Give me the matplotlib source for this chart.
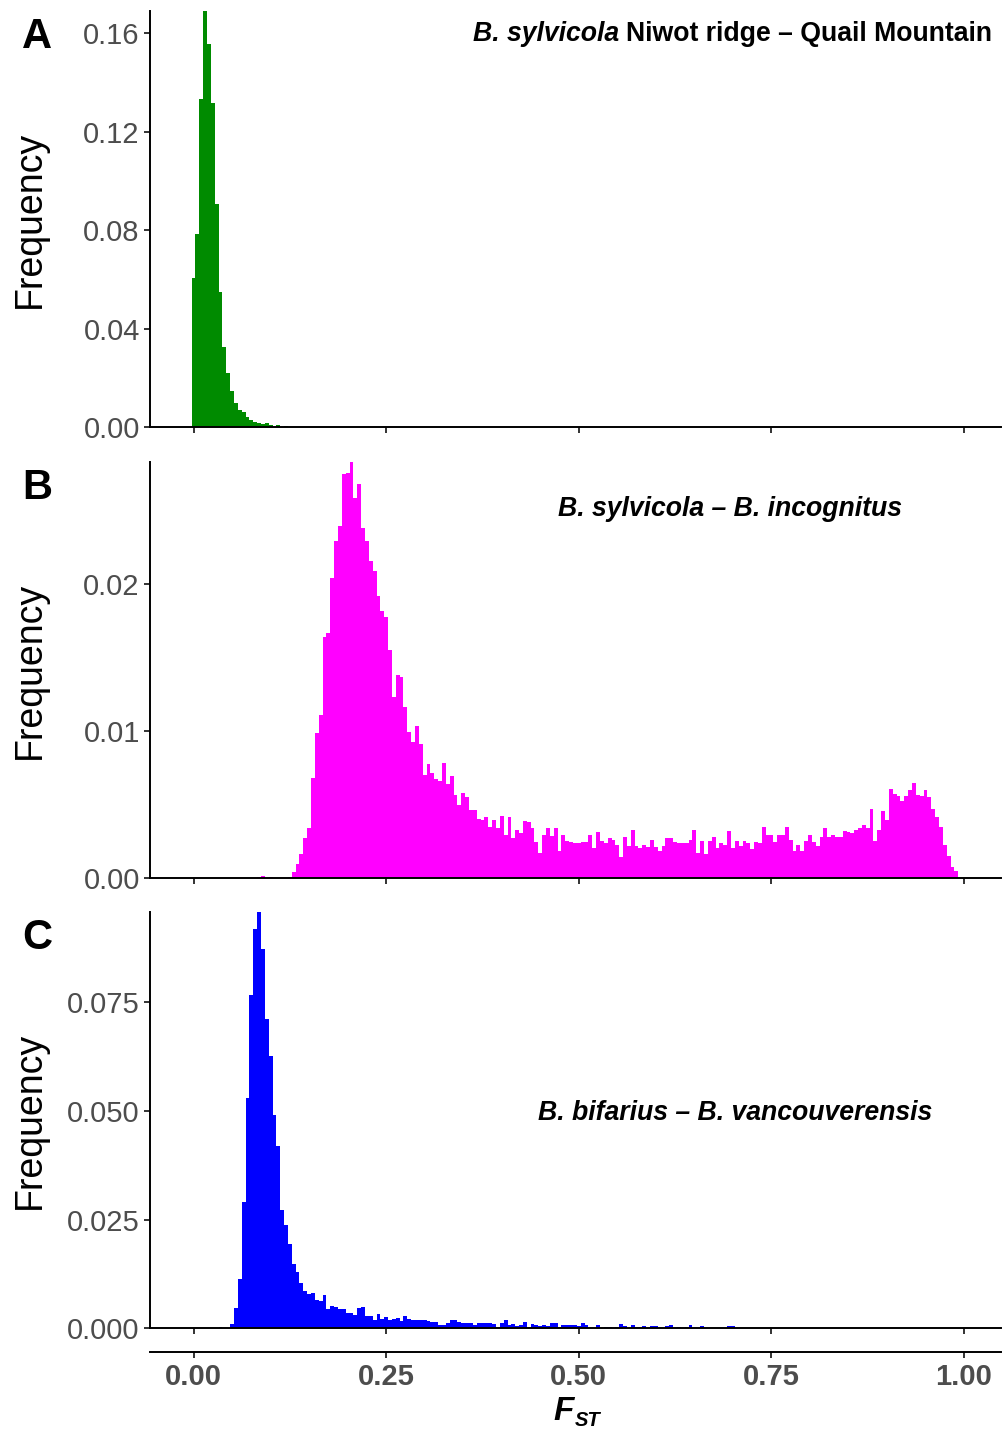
import numpy as np
import matplotlib
matplotlib.use("Agg")
import matplotlib.pyplot as plt

plt.rcParams['font.family'] = ['Liberation Sans', 'DejaVu Sans']

# histogram bins: width 0.005, bin k centred on k * 0.005
bin_width = 0.005

# A: B. sylvicola Niwot ridge - Quail Mountain (first bin = 0)
a_start = 0
a_freq = [0.0608, 0.0784, 0.1333, 0.169, 0.1558, 0.1317, 0.0907, 0.0550, 0.0326, 0.0221,
          0.0148, 0.0099, 0.0072, 0.0062, 0.0042, 0.0031, 0.0022, 0.0018, 0.0012, 0.0016,
          0.0008, 0.0001, 0.0008, 0.0003, 0.0005, 0.0003, 0.0001, 0.0001, 0.0003, 0.0001]

# B: B. sylvicola - B. incognitus (first bin = 17)
b_start = 17
b_freq = [0.00007, 0.00014, 0, 0.00007, 0, 0, 0, 0, 0.00007, 0.00041,
          0.00095, 0.00163, 0.00272, 0.0034, 0.0068, 0.00985, 0.01108, 0.01638, 0.01665, 0.02039,
          0.0229, 0.02392, 0.02745, 0.02752, 0.02827, 0.02582, 0.02677, 0.02378, 0.0229, 0.02154,
          0.02086, 0.01916, 0.01814, 0.01773, 0.01549, 0.0123, 0.01379, 0.01366, 0.01162, 0.00992,
          0.00924, 0.01033, 0.0091, 0.007, 0.00775, 0.00713, 0.00673, 0.00659, 0.00781, 0.00639,
          0.00693, 0.00564, 0.00496, 0.00578, 0.0055, 0.00462, 0.00462, 0.00401, 0.00396, 0.00417,
          0.00349, 0.00396, 0.00342, 0.00424, 0.00294, 0.00417, 0.00274, 0.00328, 0.00308, 0.0039,
          0.00383, 0.00342, 0.00247, 0.00172, 0.00294, 0.00342, 0.00288, 0.00342, 0.00186, 0.00294,
          0.00254, 0.00247, 0.0024, 0.0024, 0.00247, 0.00247, 0.00294, 0.00206, 0.00315, 0.00254,
          0.0024, 0.00274, 0.0026, 0.00227, 0.00145, 0.00281, 0.0022, 0.00328, 0.0022, 0.00206,
          0.00227, 0.00213, 0.0026, 0.00213, 0.00186, 0.0022, 0.00274, 0.00274, 0.00247, 0.0024,
          0.0024, 0.0024, 0.0026, 0.00328, 0.00172, 0.00254, 0.00165, 0.00254, 0.00281, 0.00206,
          0.0024, 0.00227, 0.00322, 0.00206, 0.00254, 0.0022, 0.00254, 0.0024, 0.00199, 0.00247,
          0.0024, 0.00349, 0.00294, 0.00294, 0.00247, 0.00294, 0.00294, 0.00349, 0.0026, 0.00186,
          0.00227, 0.00186, 0.00254, 0.00294, 0.00247, 0.0022, 0.00281, 0.00342, 0.00281, 0.00294,
          0.00281, 0.00281, 0.00322, 0.00315, 0.00308, 0.00328, 0.00342, 0.00362, 0.00342, 0.00471,
          0.00254, 0.00328, 0.00458, 0.00396, 0.00607, 0.00573, 0.00559, 0.00525, 0.00559, 0.006,
          0.00648, 0.00566, 0.00559, 0.006, 0.00553, 0.00471, 0.00417, 0.00349, 0.00227, 0.00152,
          0.00077, 0.0005]

# C: B. bifarius - B. vancouverensis (first bin = 7)
c_start = 7
c_freq = [0.00023, 0.0001, 0.0001, 0.001, 0.00467, 0.01134, 0.029, 0.0529, 0.0766, 0.0918,
          0.0957, 0.0872, 0.0711, 0.0626, 0.049, 0.0419, 0.0272, 0.0237, 0.0194, 0.0148,
          0.01295, 0.0104, 0.00858, 0.00789, 0.00812, 0.00651, 0.00628, 0.00766, 0.00444, 0.00513,
          0.0049, 0.00444, 0.00444, 0.00352, 0.00352, 0.00306, 0.00467, 0.0049, 0.00283, 0.00283,
          0.00192, 0.0033, 0.00222, 0.00268, 0.002, 0.00222, 0.00245, 0.00176, 0.00291, 0.00222,
          0.002, 0.002, 0.002, 0.002, 0.00176, 0.00153, 0.00153, 0.00084, 0.00084, 0.0013,
          0.002, 0.002, 0.00153, 0.0013, 0.0013, 0.0013, 0.00084, 0.0013, 0.0013, 0.0013,
          0.0013, 0.00107, 0.00038, 0.0013, 0.002, 0.00084, 0.00107, 0.00061, 0.00084, 0.00153,
          0.00038, 0.00107, 0.00084, 0.00061, 0.00084, 0.00061, 0.0013, 0.0013, 0.00038, 0.00084,
          0.00084, 0.00084, 0.00084, 0.00061, 0.0013, 0.00084, 0.00015, 0.00015, 0.00084, 0.00015,
          0.00038, 0.00038, 0.00015, 0.00038, 0.00107, 0.00061, 0.00015, 0.00084, 0.00038, 0.00038,
          0.00061, 0.00015, 0.00061, 0.00061, 0.00015, 0.00015, 0.00061, 0.00084, 0.00015, 0.00038,
          0.00015, 0.00038, 0.00084, 0.00015, 0.00015, 0.00061, 0.00015, 0.00015, 0, 0,
          0, 0.00015, 0.00061, 0.00061, 0.00015, 0.00015, 0.00015, 0.00015, 0.00015, 0,
          0, 0.00015, 0, 0, 0.00015, 0, 0, 0, 0.00015, 0,
          0, 0, 0, 0, 0.00015, 0.00015, 0, 0.00015]

x_ticks = [0.0, 0.25, 0.5, 0.75, 1.0]
x_ticklabels = ['0.00', '0.25', '0.50', '0.75', '1.00']

panels = [
    dict(start=a_start, freq=a_freq, color='#008B00', letter='A',
         yticks=[0, 0.04, 0.08, 0.12, 0.16], fmt='{:.2f}'),
    dict(start=b_start, freq=b_freq, color='#FF00FF', letter='B',
         yticks=[0, 0.01, 0.02], fmt='{:.2f}'),
    dict(start=c_start, freq=c_freq, color='#0000FF', letter='C',
         yticks=[0, 0.025, 0.05, 0.075], fmt='{:.3f}'),
]

W, H = 1003, 1431
fig = plt.figure(figsize=(W / 100, H / 100), dpi=100)

left, right = 150, 1001
panel_px = [(11, 427.3), (462, 878.3), (912, 1328.3)]
xlim = (-0.0565, 1.048)

axes = []
for p, (top, bot) in zip(panels, panel_px):
    ax = fig.add_axes([left / W, 1 - bot / H, (right - left) / W, (bot - top) / H])
    edges = (np.arange(p['start'], p['start'] + len(p['freq']) + 1) - 0.5) * bin_width
    ax.stairs(p['freq'], edges, fill=True, color=p['color'], linewidth=0)
    ax.set_xlim(*xlim)
    ax.set_ylim(0, max(p['freq']))
    ax.set_xticks(x_ticks)
    ax.set_xticklabels([])
    ax.set_yticks(p['yticks'])
    ax.set_yticklabels([p['fmt'].format(v) for v in p['yticks']])
    for s in ['top', 'right']:
        ax.spines[s].set_visible(False)
    for s in ['left', 'bottom']:
        ax.spines[s].set_linewidth(1.4)
    ax.tick_params(axis='both', direction='out', length=4.3, width=1.4,
                   color='#333333', labelcolor='#4D4D4D', labelsize=21, pad=3)
    ax.text(-0.141, 0.5, 'Frequency', transform=ax.transAxes, rotation=90,
            ha='center', va='center', fontsize=27, color='black')
    ax.text(-0.133, 0.938, p['letter'], transform=ax.transAxes,
            ha='center', va='center', fontsize=30, fontweight='bold')
    axes.append(ax)

ax1, ax2, ax3 = axes

# panel titles
t1 = ax1.text(0.990, 0.945, 'Niwot ridge \u2013 Quail Mountain', transform=ax1.transAxes,
              ha='right', va='center', fontsize=19.2, fontweight='bold')
ax1.annotate('B. sylvicola', xy=(0, 0), xycoords=t1, xytext=(-5, 0),
             textcoords='offset points', ha='right', va='bottom',
             fontsize=19.2, fontweight='bold', fontstyle='italic')
ax2.text(0.682, 0.888, 'B. sylvicola \u2013 B. incognitus', transform=ax2.transAxes,
         ha='center', va='center', fontsize=19.2, fontweight='bold', fontstyle='italic')
ax3.text(0.687, 0.516, 'B. bifarius \u2013 B. vancouverensis', transform=ax3.transAxes,
         ha='center', va='center', fontsize=19.2, fontweight='bold', fontstyle='italic')

# shared labelled x axis below panel C
sec = ax3.secondary_xaxis((1328.3 - 1352.3) / (1328.3 - 912))
sec.set_xticks(x_ticks)
sec.set_xticklabels(x_ticklabels, fontweight='bold')
sec.spines['bottom'].set_linewidth(1.4)
sec.tick_params(axis='x', direction='out', length=4.3, width=1.4,
                color='#333333', labelcolor='#4D4D4D', labelsize=21, pad=3.5)

fig.text(574 / W, 1 - 1411 / H, 'F', ha='right', va='center',
         fontsize=24, fontweight='bold', fontstyle='italic')
fig.text(575 / W, 1 - 1420 / H, 'ST', ha='left', va='center',
         fontsize=14.5, fontweight='bold', fontstyle='italic')

fig.savefig('out.png', dpi=100)
